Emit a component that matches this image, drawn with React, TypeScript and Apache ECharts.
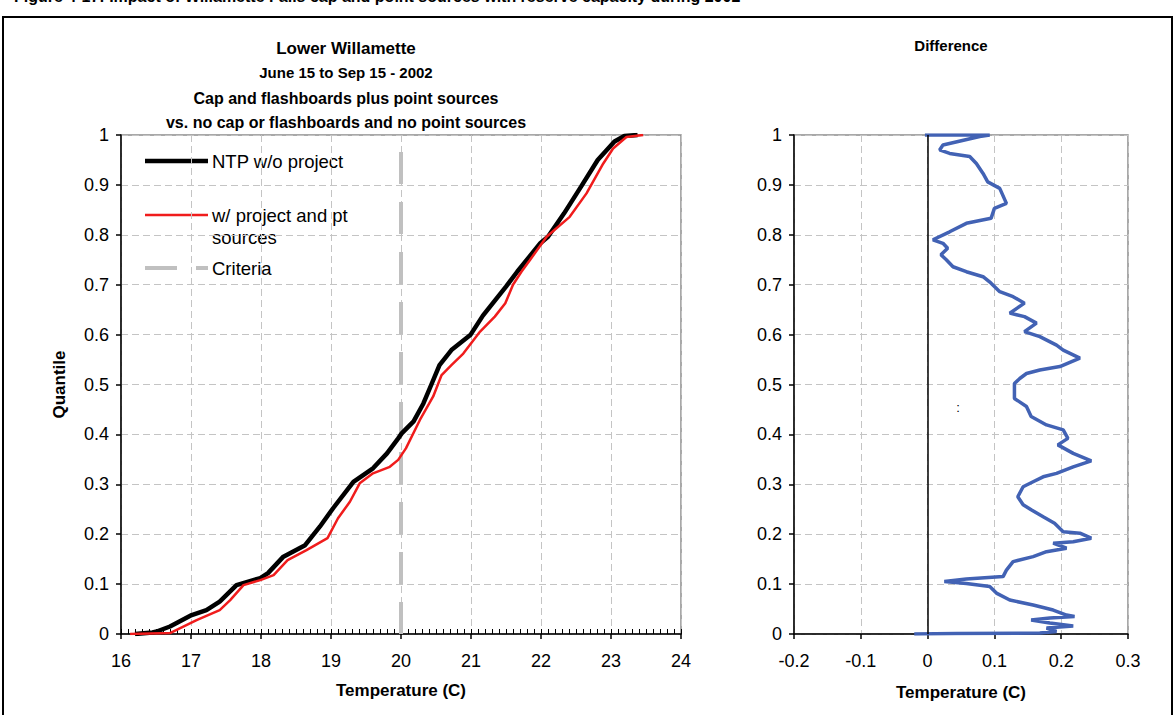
import React, { useEffect, useRef } from "react";
import * as echarts from "echarts";

const FONT = "'Liberation Sans', Arial, Helvetica, sans-serif";

// ---- Data ----
const titleLines = [
  "Lower Willamette",
  "June 15 to Sep 15 - 2002",
  "Cap and flashboards plus point sources",
  "vs. no cap or flashboards and no point sources",
];
const figureCaption =
  "Figure 4-17: Impact of Willamette Falls cap and point sources with reserve capacity during 2002";

const seriesNames = ["NTP w/o project", "w/ project and pt\nsources", "Criteria"];

// NTP w/o project (black): temperature vs quantile
const ntpTemp = [
  16.2, 16.45, 16.51, 16.7, 17.01, 17.22, 17.41, 17.65, 17.99, 18.1, 18.32, 18.63, 18.84, 19.03,
  19.32, 19.6, 19.8, 19.96, 20.01, 20.18, 20.32, 20.44, 20.55, 20.72, 20.99, 21.17, 21.5, 21.66,
  21.99, 22.1, 22.33, 22.57, 22.81, 23.05, 23.19, 23.38,
];
const ntpQuantile = [
  0, 0.003, 0.005, 0.015, 0.038, 0.048, 0.065, 0.098, 0.112, 0.122, 0.155, 0.178, 0.215, 0.252,
  0.305, 0.332, 0.362, 0.392, 0.402, 0.426, 0.462, 0.502, 0.539, 0.569, 0.599, 0.638, 0.696, 0.726,
  0.783, 0.796, 0.843, 0.896, 0.95, 0.987, 0.998, 1.0,
];

// w/ project and pt sources (red)
const projTemp = [
  16.13, 16.7, 17.08, 17.41, 17.56, 17.75, 17.99, 18.18, 18.38, 18.65, 18.95, 19.1, 19.27, 19.41,
  19.6, 19.84, 19.96, 20.07, 20.27, 20.46, 20.58, 20.72, 20.89, 21.13, 21.34, 21.49, 21.6, 21.72,
  21.84, 22.08, 22.41, 22.65, 22.89, 23.03, 23.22, 23.46,
];
const projQuantile = [
  0, 0.002, 0.028, 0.048, 0.068, 0.098, 0.108, 0.118, 0.148, 0.168, 0.192, 0.232, 0.265, 0.302,
  0.322, 0.335, 0.349, 0.372, 0.429, 0.476, 0.519, 0.539, 0.562, 0.606, 0.636, 0.663, 0.7, 0.726,
  0.749, 0.796, 0.836, 0.883, 0.943, 0.973, 0.996, 1.0,
];

const criteriaTemp = 20;

// Difference (blue): temperature difference vs quantile
const diffTemp = [
  -0.02, 0.043, 0.168, 0.193, 0.178, 0.218, 0.183, 0.155, 0.183, 0.22, 0.208, 0.188, 0.158, 0.123,
  0.103, 0.093, 0.058, 0.025, 0.058, 0.113, 0.118, 0.128, 0.158, 0.178, 0.208, 0.188, 0.218, 0.245,
  0.228, 0.203, 0.19, 0.173, 0.155, 0.143, 0.135, 0.143, 0.158, 0.173, 0.193, 0.218, 0.245, 0.218,
  0.195, 0.21, 0.203, 0.178, 0.155, 0.148, 0.13, 0.13, 0.138, 0.148, 0.168, 0.198, 0.228, 0.203,
  0.193, 0.168, 0.145, 0.163, 0.145, 0.123, 0.145, 0.128, 0.108, 0.095, 0.083, 0.058, 0.038, 0.028,
  0.02, 0.03, 0.023, 0.008, 0.033, 0.058, 0.095, 0.1, 0.118, 0.108, 0.09, 0.083, 0.073, 0.063,
  0.033, 0.018, 0.023, 0.078, 0.093, -0.004,
];
const diffQuantile = [
  0, 0.001, 0.002, 0.005, 0.012, 0.016, 0.022, 0.028, 0.032, 0.035, 0.038, 0.048, 0.058, 0.068,
  0.082, 0.095, 0.101, 0.105, 0.11, 0.115, 0.128, 0.145, 0.155, 0.165, 0.172, 0.182, 0.185, 0.192,
  0.202, 0.205, 0.222, 0.235, 0.249, 0.259, 0.275, 0.295, 0.305, 0.315, 0.322, 0.335, 0.347, 0.362,
  0.379, 0.392, 0.409, 0.419, 0.436, 0.456, 0.472, 0.502, 0.512, 0.522, 0.529, 0.536, 0.553, 0.569,
  0.579, 0.596, 0.606, 0.623, 0.636, 0.643, 0.663, 0.676, 0.686, 0.703, 0.716, 0.726, 0.736, 0.75,
  0.76, 0.773, 0.783, 0.79, 0.806, 0.823, 0.833, 0.853, 0.863, 0.893, 0.906, 0.923, 0.943, 0.957,
  0.963, 0.97, 0.98, 0.997, 1.0, 1.0,
];

const fmt1 = (v: number) => String(Math.round(v * 10) / 10);

export default function App() {
  const ref = useRef<HTMLDivElement>(null);

  useEffect(() => {
    if (!ref.current) return;
    const chart = echarts.init(ref.current, undefined, { renderer: "svg" });

    const gridLine = { show: true, lineStyle: { color: "#c4c4c4", width: 1, type: [7, 4] as any } };
    const axisLineBlack = { show: true, onZero: false, lineStyle: { color: "#000", width: 1.5 } };
    const tickLabel = { color: "#000", fontSize: 18, fontFamily: FONT };
    const nameStyle = { color: "#000", fontSize: 17, fontWeight: "bold" as const, fontFamily: FONT };

    const titleY = [48, 72, 98, 122];
    const titleSize = [17, 15, 16, 16];

    const graphic: any[] = [
      {
        type: "rect",
        shape: { x: 3, y: 17, width: 1169, height: 720 },
        style: { fill: "none", stroke: "#000", lineWidth: 2 },
        silent: true,
      },
      {
        type: "text",
        style: {
          text: figureCaption,
          x: 14,
          y: 4,
          fontSize: 16,
          fontWeight: "bold",
          fontFamily: FONT,
          fill: "#000",
          align: "left",
          verticalAlign: "bottom",
        },
      },
      ...titleLines.map((t, i) => ({
        type: "text",
        style: {
          text: t,
          x: 346,
          y: titleY[i],
          fontSize: titleSize[i],
          fontWeight: "bold",
          fontFamily: FONT,
          fill: "#000",
          align: "center",
          verticalAlign: "middle",
        },
      })),
      {
        type: "text",
        style: {
          text: "Difference",
          x: 951,
          y: 45,
          fontSize: 15,
          fontWeight: "bold",
          fontFamily: FONT,
          fill: "#000",
          align: "center",
          verticalAlign: "middle",
        },
      },
      // legend
      {
        type: "line",
        shape: { x1: 145, y1: 161, x2: 208, y2: 161 },
        style: { stroke: "#000", lineWidth: 4.5 },
      },
      {
        type: "text",
        style: { text: seriesNames[0], x: 212, y: 161, fontSize: 18.5, fontFamily: FONT, fill: "#000", verticalAlign: "middle" },
      },
      {
        type: "line",
        shape: { x1: 145, y1: 215, x2: 208, y2: 215 },
        style: { stroke: "#f01c1c", lineWidth: 2.5 },
      },
      {
        type: "text",
        style: {
          text: seriesNames[1],
          x: 212,
          y: 226,
          fontSize: 18.5,
          lineHeight: 22,
          fontFamily: FONT,
          fill: "#000",
          verticalAlign: "middle",
        },
      },
      {
        type: "line",
        shape: { x1: 145, y1: 268, x2: 208, y2: 268 },
        style: { stroke: "#c0c0c0", lineWidth: 4, lineDash: [32, 19] },
      },
      {
        type: "text",
        style: { text: seriesNames[2], x: 212, y: 268, fontSize: 18.5, fontFamily: FONT, fill: "#000", verticalAlign: "middle" },
      },
      {
        type: "text",
        style: { text: ":", x: 958, y: 407, fontSize: 13, fontFamily: FONT, fill: "#000", align: "center", verticalAlign: "middle" },
      },
    ];

    chart.setOption({
      animation: false,
      backgroundColor: "#fff",
      textStyle: { fontFamily: FONT },
      grid: [
        { left: 121, top: 135, width: 560, height: 499, show: true, borderColor: "#8c8c8c", borderWidth: 1.5, backgroundColor: "transparent" },
        { left: 794, top: 135, width: 334, height: 499, show: true, borderColor: "#8c8c8c", borderWidth: 1.5, backgroundColor: "transparent" },
      ],
      xAxis: [
        {
          gridIndex: 0,
          type: "value",
          min: 16,
          max: 24,
          interval: 1,
          position: "bottom",
          axisLine: axisLineBlack,
          axisTick: { show: true, length: 5, lineStyle: { color: "#000", width: 1.5 } },
          axisLabel: { ...tickLabel, margin: 18 },
          splitLine: gridLine,
          name: "Temperature (C)",
          nameLocation: "middle",
          nameGap: 48,
          nameTextStyle: nameStyle,
        },
        {
          gridIndex: 0,
          type: "value",
          min: 16,
          max: 24,
          interval: 0.1,
          position: "bottom",
          axisLine: { show: false },
          axisTick: { show: true, inside: true, length: 5, lineStyle: { color: "#000", width: 1 } },
          axisLabel: { show: false },
          splitLine: { show: false },
        },
        {
          gridIndex: 1,
          type: "value",
          min: -0.2,
          max: 0.3,
          interval: 0.1,
          position: "bottom",
          axisLine: axisLineBlack,
          axisTick: { show: true, length: 5, lineStyle: { color: "#000", width: 1.5 } },
          axisLabel: { ...tickLabel, margin: 18, formatter: fmt1 },
          splitLine: gridLine,
          name: "Temperature (C)",
          nameLocation: "middle",
          nameGap: 50,
          nameTextStyle: nameStyle,
        },
      ],
      yAxis: [
        {
          gridIndex: 0,
          type: "value",
          min: 0,
          max: 1,
          interval: 0.1,
          axisLine: axisLineBlack,
          axisTick: { show: true, length: 5, lineStyle: { color: "#000", width: 1.5 } },
          axisLabel: { ...tickLabel, margin: 12, formatter: fmt1 },
          splitLine: gridLine,
          name: "Quantile",
          nameLocation: "middle",
          nameRotate: 90,
          nameGap: 53,
          nameTextStyle: nameStyle,
        },
        {
          gridIndex: 1,
          type: "value",
          min: 0,
          max: 1,
          interval: 0.1,
          axisLine: axisLineBlack,
          axisTick: { show: true, length: 5, lineStyle: { color: "#000", width: 1.5 } },
          axisLabel: { ...tickLabel, margin: 12, formatter: fmt1 },
          splitLine: gridLine,
        },
      ],
      series: [
        {
          name: "Criteria",
          type: "line",
          xAxisIndex: 0,
          yAxisIndex: 0,
          data: [
            [criteriaTemp, 0],
            [criteriaTemp, 1],
          ],
          showSymbol: false,
          symbol: "none",
          lineStyle: { color: "#c0c0c0", width: 4, type: [32, 18] as any },
          z: 1,
        },
        {
          name: "NTP w/o project",
          type: "line",
          xAxisIndex: 0,
          yAxisIndex: 0,
          data: ntpTemp.map((t, i) => [t, ntpQuantile[i]]),
          showSymbol: false,
          symbol: "none",
          lineStyle: { color: "#000", width: 4.5 },
          z: 2,
        },
        {
          name: "w/ project and pt sources",
          type: "line",
          xAxisIndex: 0,
          yAxisIndex: 0,
          data: projTemp.map((t, i) => [t, projQuantile[i]]),
          showSymbol: false,
          symbol: "none",
          lineStyle: { color: "#f01c1c", width: 2.5 },
          z: 3,
        },
        {
          name: "Difference",
          type: "line",
          xAxisIndex: 2,
          yAxisIndex: 1,
          data: diffTemp.map((t, i) => [t, diffQuantile[i]]),
          showSymbol: false,
          symbol: "none",
          lineStyle: { color: "#4262b4", width: 3.5 },
          z: 3,
          markLine: {
            silent: true,
            symbol: "none",
            label: { show: false },
            lineStyle: { color: "#000", width: 1.5, type: "solid" },
            data: [{ xAxis: 0 }],
          },
        },
      ],
      graphic,
    });

    return () => chart.dispose();
  }, []);

  return (
    <div
      ref={ref}
      style={{ position: "absolute", left: 0, top: 0, width: 1176, height: 715 }}
    />
  );
}
